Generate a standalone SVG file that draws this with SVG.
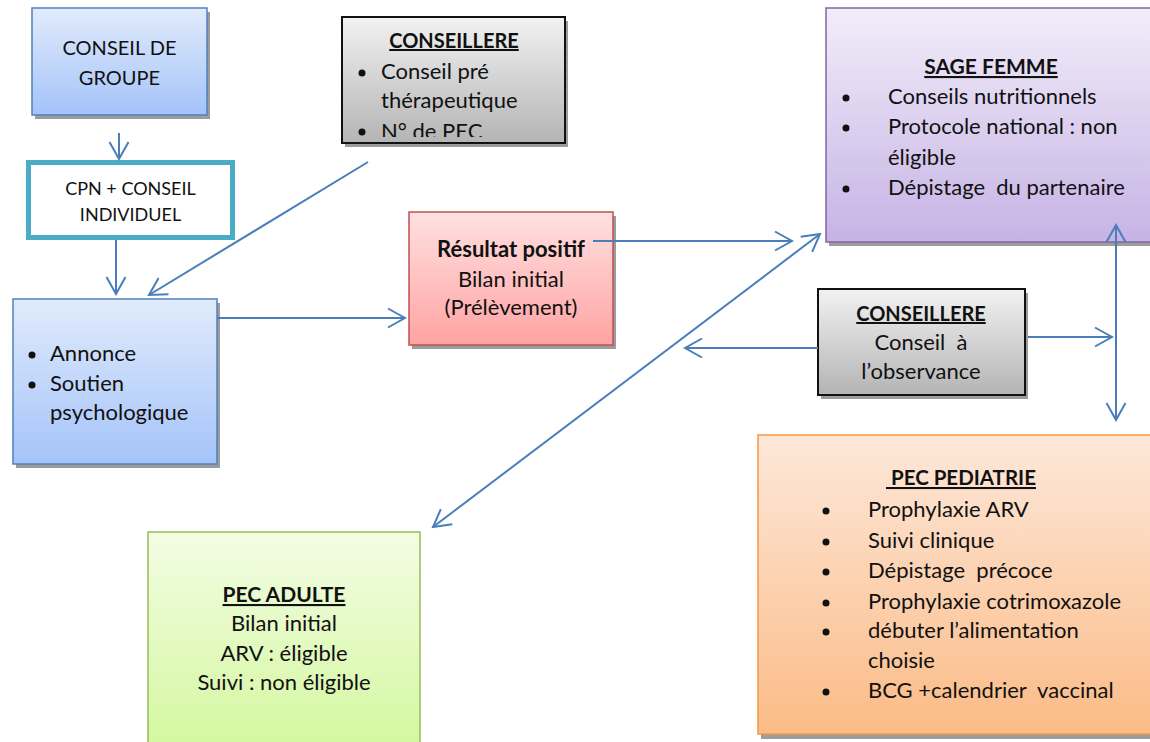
<svg xmlns="http://www.w3.org/2000/svg" width="1150" height="742" viewBox="0 0 1150 742">
<defs>
<style>
text{font-family:Lato,"Open Sans","Liberation Sans",sans-serif;font-size:22px;fill:#111;}
.c{text-anchor:middle;}
.b{font-weight:bold;font-size:21px;}
.u{text-decoration:underline;}
.sm{font-size:18px;}
.g20{font-size:20px;}
.sh{fill:#9c9c9c;}
.con{stroke:#4a7ebb;stroke-width:2;fill:none;}
.dot{fill:#111;}
</style>
<linearGradient id="gBlue" x1="0" y1="0" x2="0" y2="1"><stop offset="0" stop-color="#e1ebfc"/><stop offset="1" stop-color="#a4c3f9"/></linearGradient>
<linearGradient id="gRed" x1="0" y1="0" x2="0" y2="1"><stop offset="0" stop-color="#ffe1e1"/><stop offset="1" stop-color="#ffa3a3"/></linearGradient>
<linearGradient id="gGray" x1="0" y1="0" x2="0" y2="1"><stop offset="0" stop-color="#f2f2f2"/><stop offset="1" stop-color="#b4b4b4"/></linearGradient>
<linearGradient id="gPurple" x1="0" y1="0" x2="0" y2="1"><stop offset="0" stop-color="#f2edf9"/><stop offset="1" stop-color="#c6b3e5"/></linearGradient>
<linearGradient id="gOrange" x1="0" y1="0" x2="0" y2="1"><stop offset="0" stop-color="#fde8da"/><stop offset="1" stop-color="#fbbb86"/></linearGradient>
<linearGradient id="gGreen" x1="0" y1="0" x2="0" y2="1"><stop offset="0" stop-color="#f3fde4"/><stop offset="1" stop-color="#d3f79e"/></linearGradient>
<marker id="arr" viewBox="-19 -11 21 22" refX="0" refY="0" markerWidth="21" markerHeight="22" markerUnits="userSpaceOnUse" orient="auto-start-reverse">
<path d="M-17,-9.5 L0,0 L-17,9.5" fill="none" stroke="#4a7ebb" stroke-width="2"/>
</marker>
<clipPath id="clipC1"><rect x="343" y="18" width="221" height="119"/></clipPath>
</defs>
<rect width="1150" height="742" fill="#fff"/>

<g id="conseil-groupe">
<rect class="sh" x="35" y="12" width="175" height="107"/>
<rect x="32" y="8" width="175" height="107" fill="url(#gBlue)" stroke="#4f81bd" stroke-width="1.5"/>
<text class="c g20" x="119.5" y="55">CONSEIL DE</text>
<text class="c g20" x="119.5" y="85">GROUPE</text>
</g>

<g id="cpn-conseil">
<rect x="28.5" y="162.5" width="204" height="75" fill="#fff" stroke="#4bacc6" stroke-width="5"/>
<text class="c sm" x="130.5" y="195">CPN + CONSEIL</text>
<text class="c sm" x="130.5" y="221">INDIVIDUEL</text>
</g>

<g id="conseillere-1">
<rect class="sh" x="345" y="21" width="223" height="126"/>
<rect x="342" y="17" width="223" height="126" fill="url(#gGray)" stroke="#111" stroke-width="2"/>
<text class="c b u" x="454" y="48" style="font-size:20px">CONSEILLERE</text>
<g clip-path="url(#clipC1)">
<circle class="dot" cx="362" cy="73" r="3.5"/>
<text x="381" y="79">Conseil pré</text>
<text x="381" y="108">thérapeutique</text>
<circle class="dot" cx="362" cy="132" r="3.5"/>
<text x="381" y="139">N° de PEC</text>
</g>
</g>

<g id="annonce">
<rect class="sh" x="16" y="303" width="204" height="165"/>
<rect x="13" y="299" width="204" height="165" fill="url(#gBlue)" stroke="#4f81bd" stroke-width="1.5"/>
<circle class="dot" cx="32" cy="355" r="3.5"/>
<text x="50" y="361">Annonce</text>
<circle class="dot" cx="32" cy="385" r="3.5"/>
<text x="50" y="391">Soutien</text>
<text x="50" y="420">psychologique</text>
</g>

<g id="resultat">
<rect class="sh" x="412" y="216" width="204" height="133"/>
<rect x="409" y="212" width="204" height="133" fill="url(#gRed)" stroke="#c0504d" stroke-width="1.5"/>
<text class="c b" x="511" y="257" style="font-size:22px">Résultat positif</text>
<text class="c" x="511" y="287">Bilan initial</text>
<text class="c" x="511" y="315">(Prélèvement)</text>
</g>

<g id="sage-femme">
<rect class="sh" x="829" y="12" width="340" height="234"/>
<rect x="826" y="8" width="340" height="234" fill="url(#gPurple)" stroke="#8064a2" stroke-width="1.5"/>
<text class="c b u" x="991" y="74">SAGE FEMME</text>
<circle class="dot" cx="846" cy="98" r="3.5"/>
<text x="888" y="104">Conseils nutritionnels</text>
<circle class="dot" cx="846" cy="128" r="3.5"/>
<text x="888" y="134">Protocole national : non</text>
<text x="888" y="165">éligible</text>
<circle class="dot" cx="846" cy="189" r="3.5"/>
<text x="888" y="195" xml:space="preserve">Dépistage  du partenaire</text>
</g>

<g id="conseillere-2">
<rect class="sh" x="821" y="293" width="207" height="106"/>
<rect x="818" y="289" width="207" height="106" fill="url(#gGray)" stroke="#111" stroke-width="2"/>
<text class="c b u" x="921" y="321" style="font-size:20px">CONSEILLERE</text>
<text class="c" x="921" y="350" xml:space="preserve">Conseil  à</text>
<text class="c" x="921" y="379">l’observance</text>
</g>

<g id="pec-pediatrie">
<rect class="sh" x="761" y="439" width="410" height="300"/>
<rect x="758" y="435" width="410" height="299" fill="url(#gOrange)" stroke="#f79646" stroke-width="1.5"/>
<text class="b u" x="886" y="485" xml:space="preserve" style="font-size:20.5px"> PEC PEDIATRIE</text>
<circle class="dot" cx="826" cy="511" r="3.5"/>
<text x="868" y="517">Prophylaxie ARV</text>
<circle class="dot" cx="826" cy="542" r="3.5"/>
<text x="868" y="548">Suivi clinique</text>
<circle class="dot" cx="826" cy="572" r="3.5"/>
<text x="868" y="578" xml:space="preserve">Dépistage  précoce</text>
<circle class="dot" cx="826" cy="603" r="3.5"/>
<text x="868" y="609">Prophylaxie cotrimoxazole</text>
<circle class="dot" cx="826" cy="632" r="3.5"/>
<text x="868" y="638">débuter l’alimentation</text>
<text x="868" y="668">choisie</text>
<circle class="dot" cx="826" cy="692" r="3.5"/>
<text x="868" y="698" xml:space="preserve">BCG +calendrier  vaccinal</text>
</g>

<g id="pec-adulte">
<rect x="148" y="532" width="272" height="220" fill="url(#gGreen)" stroke="#9bbb59" stroke-width="1.5"/>
<text class="c b u" x="284" y="602">PEC ADULTE</text>
<text class="c" x="284" y="631">Bilan initial</text>
<text class="c" x="284" y="661">ARV : éligible</text>
<text class="c" x="284" y="690">Suivi : non éligible</text>
</g>

<g id="connectors">
<line class="con" x1="119" y1="133" x2="119" y2="159" marker-end="url(#arr)"/>
<line class="con" x1="116" y1="240" x2="116" y2="294" marker-end="url(#arr)"/>
<line class="con" x1="368" y1="162" x2="149" y2="295" marker-end="url(#arr)"/>
<line class="con" x1="217" y1="318" x2="405" y2="318" marker-end="url(#arr)"/>
<line class="con" x1="593" y1="241" x2="792" y2="241" marker-end="url(#arr)"/>
<line class="con" x1="433" y1="527" x2="820" y2="234" marker-start="url(#arr)" marker-end="url(#arr)"/>
<line class="con" x1="818" y1="348" x2="685" y2="348" marker-end="url(#arr)"/>
<line class="con" x1="1028" y1="337" x2="1112" y2="337" marker-end="url(#arr)"/>
<line class="con" x1="1116" y1="225" x2="1116" y2="420" marker-start="url(#arr)" marker-end="url(#arr)"/>
</g>
</svg>
